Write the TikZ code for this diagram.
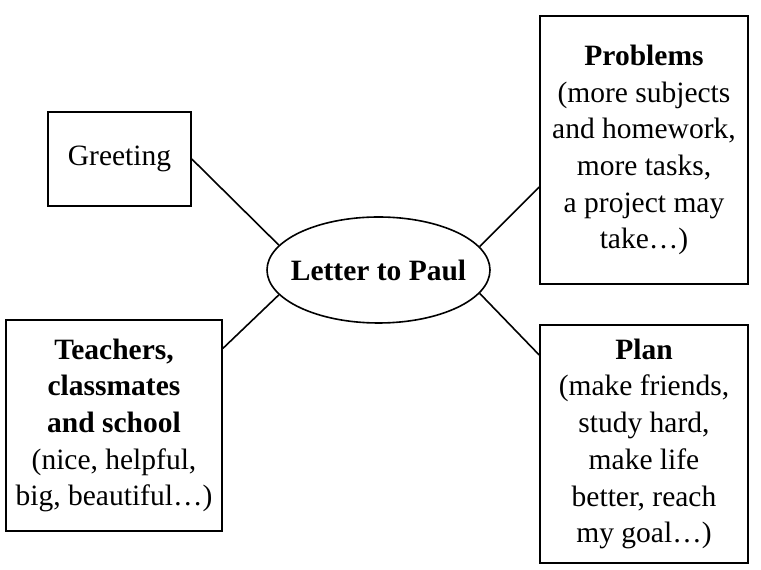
\documentclass[tikz,border=0pt]{standalone}
\usepackage{fontspec}
\setmainfont{Liberation Serif}
\usetikzlibrary{shapes.geometric}
\tikzset{
  mapbox/.style={draw, line width=1.6pt, inner sep=0pt, align=center, font=\fontsize{29.5}{36.7}\selectfont},
  hub/.style={ellipse, draw, line width=1.6pt, inner ysep=0pt, inner xsep=-9pt, minimum width=223pt, minimum height=106pt, font=\fontsize{29.5}{36.7}\selectfont\bfseries},
  link/.style={line width=1.6pt}
}
\begin{document}
\begin{tikzpicture}[x=1pt,y=1pt]
        \useasboundingbox (0,0) rectangle (761,570);
        \node[hub] (letter) at (378.5,300) {Letter to Paul};
        \node[mapbox, minimum width=143pt, minimum height=94pt] (greet) at (119.5,411) {Greeting};
        \node[mapbox, minimum width=208pt, minimum height=268pt] (prob) at (644,420) {\textbf{Problems}\\(more subjects\\and homework,\\more tasks,\\a project may\\take\dots)};
        \node[mapbox, minimum width=216pt, minimum height=211pt] (teach) at (114,144.5) {\textbf{Teachers,}\\\textbf{classmates}\\\textbf{and school}\\(nice, helpful,\\big, beautiful\dots)};
        \node[mapbox, minimum width=208pt, minimum height=238pt] (plan) at (644,126) {\textbf{Plan}\\(make friends,\\study hard,\\make life\\better, reach\\my goal\dots)};
        \draw[link] (greet.east) -- (letter.166);
        \draw[link] ([yshift=-37pt]prob.west) -- (letter.13);
        \draw[link] ([yshift=77pt]teach.east) -- (letter.194.5);
        \draw[link] ([yshift=89pt]plan.west) -- (letter.347);
      \end{tikzpicture}
\end{document}
